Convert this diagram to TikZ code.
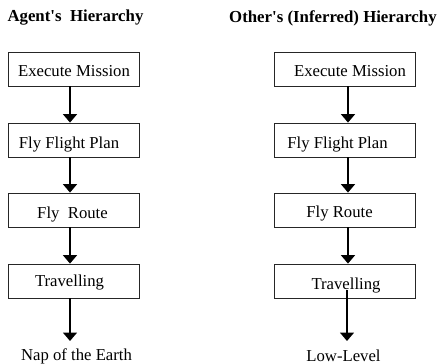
\documentclass[tikz,border=0pt]{standalone}
\usepackage{fontspec}
\newfontfamily\tnr{Liberation Serif}
\usetikzlibrary{arrows.meta}
\tikzset{
  box/.style={draw=black!85, line width=0.8pt, minimum width=#1, minimum height=34pt, inner sep=0pt},
  lbl/.style={font=\tnr\fontsize{16.7}{19}\selectfont, anchor=base, inner sep=0pt},
  ttl/.style={font=\tnr\bfseries\fontsize{16.8}{19}\selectfont, anchor=base west, inner sep=0pt},
  arr/.style={line width=1.6pt, -{Triangle[width=14pt,length=8.5pt]}}
}
\begin{document}
\begin{tikzpicture}[x=1pt,y=-1pt]
\useasboundingbox (0,0) rectangle (439,364);
% titles
\node[ttl] (t1) at (7.3,21.5) {Agent\symbol{39}s\ \ Hierarchy};
\node[ttl] (t2) at (229,22) {Other\symbol{39}s (Inferred) Hierarchy};
% left boxes
\node[box=131pt] (l1) at (73.5,69) {};
\node[box=131pt] (l2) at (73.5,140) {};
\node[box=131pt] (l3) at (73.5,210) {};
\node[box=131pt] (l4) at (73.5,281) {};
\node[lbl] (l1t) at (74,76) {Execute Mission};
\node[lbl] (l2t) at (69,148) {Fly Flight Plan};
\node[lbl] (l3t) at (72.5,218.5) {Fly\ \ Route};
\node[lbl] (l4t) at (69.5,286.5) {Travelling};
\node[lbl] (l5t) at (76.5,360) {Nap of the Earth};
% right boxes
\node[box=141pt] (r1) at (344.5,69) {};
\node[box=141pt] (r2) at (344.5,140) {};
\node[box=141pt] (r3) at (344.5,210) {};
\node[box=141pt] (r4) at (344.5,281) {};
\node[lbl] (r1t) at (350,76) {Execute Mission};
\node[lbl] (r2t) at (337.5,148) {Fly Flight Plan};
\node[lbl] (r3t) at (339.5,217.5) {Fly Route};
\node[lbl] (r4t) at (346,289) {Travelling};
\node[lbl] (r5t) at (343.5,361) {Low-Level};
% arrow guides
\coordinate (lx) at (70,0);
\coordinate (rx) at (348,0);
\coordinate (lend) at (70,341);
\coordinate (rstart) at (347,290);
\coordinate (rend) at (347,341);
% arrows
\draw[arr] (l1.south -| lx) -- (l2.north -| lx);
\draw[arr] (l2.south -| lx) -- (l3.north -| lx);
\draw[arr] (l3.south -| lx) -- (l4.north -| lx);
\draw[arr] (l4.south -| lx) -- (lend);
\draw[arr] (r1.south -| rx) -- (r2.north -| rx);
\draw[arr] (r2.south -| rx) -- (r3.north -| rx);
\draw[arr] (r3.south -| rx) -- (r4.north -| rx);
\draw[arr] (rstart) -- (rend);
\end{tikzpicture}
\end{document}
